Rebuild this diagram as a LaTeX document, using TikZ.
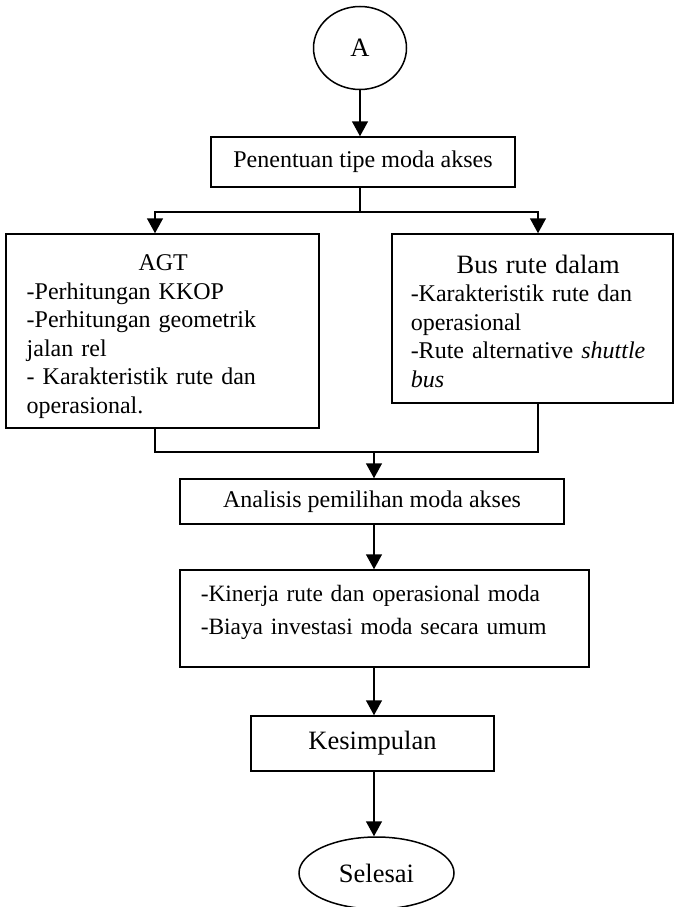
\documentclass[tikz,border=0pt]{standalone}
\usepackage{fontspec}
\setmainfont{Liberation Serif}
\usetikzlibrary{arrows.meta,shapes.geometric}
\begin{document}
\begin{tikzpicture}[x=1pt,y=-1pt,
  line width=1.5pt,
  box/.style={draw,rectangle,inner sep=0pt,line width=1.5pt,font=\fontsize{24}{28.5}\selectfont},
  bigbox/.style={box,font=\fontsize{26.5}{30}\selectfont},
  oval/.style={draw,ellipse,inner sep=0pt,line width=1.5pt,font=\fontsize{26.5}{30}\selectfont},
  body/.style={inner sep=0pt,align=left,font=\fontsize{24}{28.5}\selectfont},
  arr/.style={-{Triangle[length=15pt,width=16pt]}}
]
\useasboundingbox (0,0) rectangle (674,907);
% nodes
\node[oval,minimum width=93pt,minimum height=83pt] (A) at (360,48) {A};
\node[box,minimum width=304pt,minimum height=50pt] (pen) at (363,162) {Penentuan tipe moda akses};
\node[box,minimum width=313pt,minimum height=194pt] (agt) at (162.5,331) {};
\node[box,minimum width=281pt,minimum height=169pt] (bus) at (532.5,318.5) {};
\node[box,minimum width=384pt,minimum height=45pt] (ana) at (372,501.5) {Analisis pemilihan moda akses};
\node[box,minimum width=409pt,minimum height=97pt] (kin) at (384.5,618.5) {};
\node[bigbox,minimum width=243pt,minimum height=55pt] (kes) at (372.5,743.5) {Kesimpulan};
\node[oval,minimum width=155pt,minimum height=72pt] (sel) at (376.5,873) {Selesai};
% texts inside boxes
\node[body,anchor=north west,text width=273pt] (agtT) at (26,254)
  {{\centering AGT\par}-Perhitungan KKOP\\-Perhitungan geometrik\\jalan rel\\- Karakteristik rute dan\\operasional.};
\node[body,anchor=north west,text width=255pt] (busT) at (410,254)
  {{\centering\fontsize{26.5}{30}\selectfont Bus rute dalam\par}-Karakteristik rute dan\\operasional\\-Rute alternative \textit{shuttle}\\\textit{bus}};
\node[body,anchor=north west,text width=380pt,font=\fontsize{23.4}{33}\selectfont] (kinT) at (200,585)
  {-Kinerja rute dan operasional moda\\-Biaya investasi moda secara umum};
% helper coordinates
\coordinate (sp) at (360,212);
\coordinate (jl) at (155,212);
\coordinate (jr) at (538,212);
\coordinate (mg) at (374,452);
% connectors
\draw[arr] (A.south) -- (A.south |- pen.north);
\draw (pen.south -| sp) -- (sp);
\draw[arr] (sp) -| (jl |- agt.north);
\draw[arr] (sp) -| (jr |- bus.north);
\draw (jl |- agt.south) |- (mg);
\draw (jr |- bus.south) |- (mg);
\draw[arr] (mg) -- (mg |- ana.north);
\draw[arr] (ana.south -| mg) -- (kin.north -| mg);
\draw[arr] (kin.south -| mg) -- (kes.north -| mg);
\draw[arr] (kes.south -| mg) -- (sel.north -| mg);
\end{tikzpicture}
\end{document}
